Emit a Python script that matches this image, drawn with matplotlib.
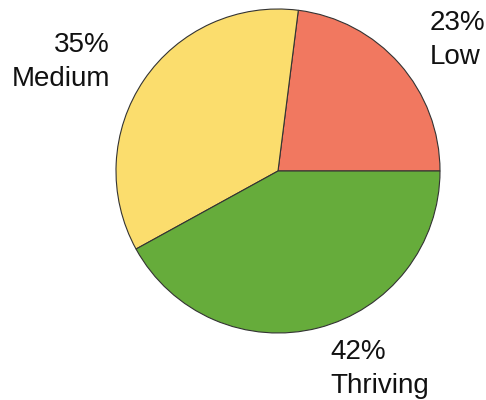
import matplotlib
matplotlib.use("Agg")
import matplotlib.pyplot as plt

categories = ["Low", "Medium", "Thriving"]
shares = [23, 35, 42]
colors = ["#F17860", "#FBDD6D", "#66AC3B"]

plt.rcParams['font.family'] = ['Liberation Sans', 'DejaVu Sans']

W, H = 486, 400
fig = plt.figure(figsize=(W / 100, H / 100), dpi=100)
ax = fig.add_axes([0, 0, 1, 1])

cx, cy, r = 278, H - 171, 162
ax.pie(shares, colors=colors, startangle=0, counterclock=True,
       center=(cx, cy), radius=r, frame=True,
       wedgeprops={'edgecolor': '#333333', 'linewidth': 0.8})
ax.set_xlim(0, W)
ax.set_ylim(0, H)
ax.set_aspect('equal')
ax.axis('off')

# label blocks: (x, baseline of last line from top, horizontal alignment)
label_pos = [(430, 64, 'left'), (110, 86, 'right'), (330, 393, 'left')]
for cat, val, (x, y, ha) in zip(categories, shares, label_pos):
    ax.text(x, H - y, f"{val}%\n{cat}", ha=ha, va='baseline', fontsize=20,
            multialignment=ha, linespacing=1.4, color='#111111')

fig.savefig("out.png", dpi=100)
